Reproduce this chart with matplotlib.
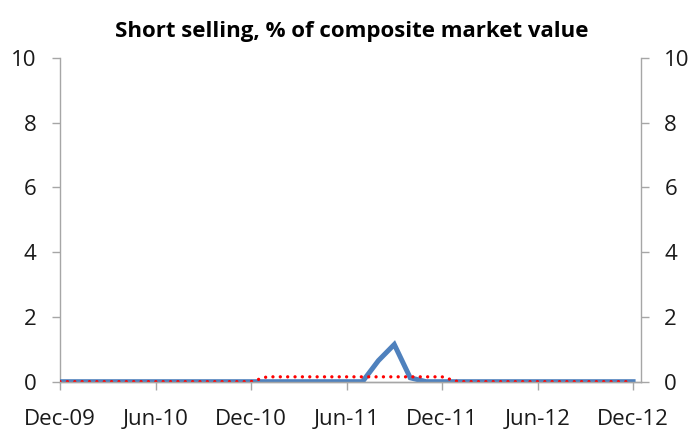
import numpy as np
import matplotlib.pyplot as plt

plt.rcParams['font.family'] = ['Open Sans', 'DejaVu Sans']

# monthly points, Dec-09 .. Dec-12
months = np.arange(37)
tick_pos = [0, 6, 12, 18, 24, 30, 36]
tick_labels = ["Dec-09", "Jun-10", "Dec-10", "Jun-11", "Dec-11", "Jun-12", "Dec-12"]

blue_vals = [0.0] * 37
blue_vals[20] = 0.65   # Aug-11
blue_vals[21] = 1.15   # Sep-11
blue_vals[22] = 0.12   # Oct-11

red_vals = [0.0] * 13 + [0.15] * 12 + [0.0] * 12

grey = "#A6A6A6"

fig = plt.figure(figsize=(6.97, 4.29), dpi=100)
ax = fig.add_axes([0.0861, 0.1103, 0.8336, 0.7545])

ax.plot(months, blue_vals, color="#4F81BD", linewidth=3.6, solid_joinstyle="miter", zorder=3)
# round dots
ax.plot(months, red_vals, color="#FF0000", linewidth=2.4, linestyle=(0, (0.01, 2.2)),
        dash_capstyle="round", zorder=4)

ax.set_xlim(0, 36.5)
ax.set_ylim(0, 10)
ax.set_xticks(tick_pos)
ax.set_xticklabels(tick_labels)
ax.set_yticks([0, 2, 4, 6, 8, 10])

ax2 = ax.twinx()
ax2.set_ylim(0, 10)
ax2.set_yticks([0, 2, 4, 6, 8, 10])

for a in (ax, ax2):
    a.spines["top"].set_visible(False)
    for s in ("left", "right", "bottom"):
        a.spines[s].set_color(grey)
        a.spines[s].set_linewidth(1)
    a.tick_params(axis="both", colors=grey, length=5.8, width=1, labelsize=16,
                  labelcolor="#1a1a1a", pad=11)

ax.spines["right"].set_visible(False)
ax2.spines["left"].set_visible(False)
ax.tick_params(axis="x", pad=14)

fig.text(0.504, 0.9138, "Short selling, % of composite market value", fontsize=16,
         fontweight="bold", ha="center", va="baseline")

fig.savefig("out.png", dpi=100)
